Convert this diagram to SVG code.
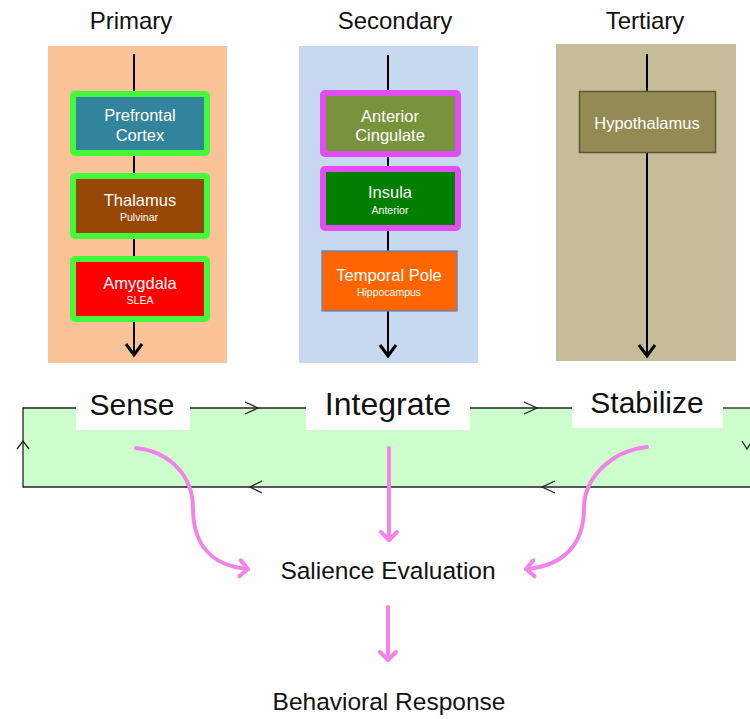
<svg xmlns="http://www.w3.org/2000/svg" width="750" height="719" viewBox="0 0 750 719">
<defs>
<style>
text{font-family:"Liberation Sans",Arial,sans-serif;text-anchor:middle}
.title{font-size:24px;fill:#111}
.big{font-size:30px;fill:#111}
.mid{font-size:24.5px;fill:#111}
.bt{font-size:16.5px;fill:#fff}
.st{font-size:10.5px;fill:#fff}
.col{stroke:#000;stroke-width:2;fill:none}
.chev{stroke:#000;stroke-width:3;fill:none;stroke-linejoin:miter}
.loop{stroke:#222;stroke-width:1.3;fill:none}
.pink{stroke:#F383EA;stroke-width:4;fill:none;stroke-linecap:round}
.gb{stroke:#44F83A;stroke-width:6}
.mb{stroke:#E04DF2;stroke-width:6}
</style>
<marker id="ph" markerUnits="userSpaceOnUse" markerWidth="24" markerHeight="24" refX="12" refY="12" orient="auto" viewBox="0 0 24 24">
<path d="M4,4 L12,12 L4,20" stroke="#F383EA" stroke-width="4" fill="none" stroke-linecap="round" stroke-linejoin="round"/>
</marker>
</defs>
<rect width="750" height="719" fill="#fff"/>

<g id="col-primary">
<text class="title" x="131" y="29">Primary</text>
<rect x="48" y="46" width="179" height="317" fill="#F9C397"/>
<line class="col" x1="134" y1="54" x2="134" y2="354"/>
<path class="chev" d="M126,344 L134,355 L142,344"/>
</g>
<g id="col-secondary">
<text class="title" x="395" y="29">Secondary</text>
<rect x="299" y="46" width="179" height="317" fill="#C6D9F1"/>
<line class="col" x1="388" y1="55" x2="388" y2="355"/>
<path class="chev" d="M380,345 L388,356 L396,345"/>
</g>
<g id="col-tertiary">
<text class="title" x="645" y="29">Tertiary</text>
<rect x="556" y="44" width="180" height="317" fill="#C4BD97"/>
<line class="col" x1="647" y1="54" x2="647" y2="355"/>
<path class="chev" d="M639,345 L647,356 L655,345"/>
</g>

<g id="prefrontal">
<rect class="gb" x="73" y="94" width="134" height="59" rx="2" fill="#31849B"/>
<text class="bt" x="140" y="121">Prefrontal</text>
<text class="bt" x="140" y="141">Cortex</text>
</g>
<g id="thalamus">
<rect class="gb" x="73" y="176" width="134" height="60" rx="2" fill="#974706"/>
<text class="bt" x="140" y="206">Thalamus</text>
<text class="st" x="139" y="221">Pulvinar</text>
</g>
<g id="amygdala">
<rect class="gb" x="73" y="259" width="134" height="60" rx="2" fill="#FF0000"/>
<text class="bt" x="140" y="289">Amygdala</text>
<text class="st" x="140" y="304">SLEA</text>
</g>

<g id="anterior-cingulate">
<rect class="mb" x="323" y="93" width="135" height="61" rx="2" fill="#77933C"/>
<text class="bt" x="390" y="122">Anterior</text>
<text class="bt" x="390" y="141">Cingulate</text>
</g>
<g id="insula">
<rect class="mb" x="323" y="169" width="135" height="59" rx="2" fill="#007F00"/>
<text class="bt" x="390" y="198">Insula</text>
<text class="st" x="390" y="214">Anterior</text>
</g>
<g id="temporal-pole">
<rect x="322" y="251" width="135" height="60" fill="#FF6600" stroke="#5B86C0" stroke-width="1.3"/>
<text class="bt" x="389" y="281">Temporal Pole</text>
<text class="st" x="389" y="296">Hippocampus</text>
</g>

<g id="hypothalamus">
<rect x="579.5" y="91.5" width="136" height="61" fill="#948A54" stroke="#5C5633" stroke-width="1.5"/>
<text class="bt" x="647" y="129">Hypothalamus</text>
</g>

<g id="loop">
<rect x="23" y="408" width="735" height="79" fill="#CCFFCC"/>
<rect x="76" y="380" width="114" height="50" fill="#fff"/>
<rect x="306" y="380" width="164" height="50" fill="#fff"/>
<rect x="572" y="380" width="151" height="48" fill="#fff"/>
<g class="loop">
<path d="M76,408 H23 V487 H750"/>
<path d="M190,408 H306"/>
<path d="M470,408 H572"/>
<path d="M723,408 H750"/>
<path d="M245,402 L258,408 L245,414"/>
<path d="M524,402 L537,408 L524,414"/>
<path d="M262,481 L250,487 L262,493"/>
<path d="M555,481 L542,487 L555,493"/>
<path d="M17,449 L23,441 L29,449"/>
<path d="M742,441 L747,449 L752,441"/>
</g>
</g>

<g id="sense"><text class="big" x="132" y="415">Sense</text></g>
<g id="integrate"><text class="big" x="388" y="415" style="font-size:32px">Integrate</text></g>
<g id="stabilize"><text class="big" x="647" y="413">Stabilize</text></g>
<g id="salience"><text class="mid" x="388" y="579">Salience Evaluation</text></g>
<g id="behavioral"><text class="mid" x="389" y="710">Behavioral Response</text></g>

<g id="connectors">
<path class="pink" d="M136,448 C172,452 193,478 193,508 C193,545 212,566 248,569" marker-end="url(#ph)"/>
<path class="pink" d="M389,448 V540" marker-end="url(#ph)"/>
<path class="pink" d="M647,447 C611,451 584,478 584,508 C584,545 563,566 526,569" marker-end="url(#ph)"/>
<path class="pink" d="M388,607 V660" marker-end="url(#ph)"/>
</g>
</svg>
